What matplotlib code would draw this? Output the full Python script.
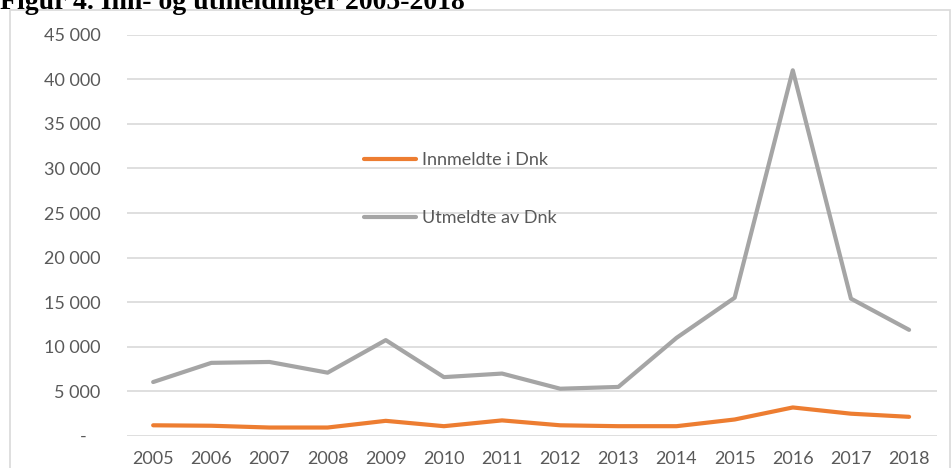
import matplotlib
matplotlib.use('Agg')
import matplotlib.pyplot as plt
from matplotlib.patches import Rectangle

# ── Data ───────────────────────────────────────────────────────────────
years = ["2005", "2006", "2007", "2008", "2009", "2010", "2011",
         "2012", "2013", "2014", "2015", "2016", "2017", "2018"]
innmeldte = [1200, 1150, 950, 950, 1700, 1100, 1750,
             1200, 1100, 1100, 1850, 3200, 2500, 2150]
utmeldte = [6050, 8200, 8300, 7100, 10750, 6600, 7000,
            5300, 5500, 11000, 15500, 41000, 15400, 11900]
y_ticks = [0, 5000, 10000, 15000, 20000, 25000, 30000, 35000, 40000, 45000]
y_labels = ["-   ", "5 000", "10 000", "15 000", "20 000", "25 000",
            "30 000", "35 000", "40 000", "45 000"]

TXT = '#595959'
W, H = 952, 468

fig = plt.figure(figsize=(W / 100, H / 100), dpi=100)
plt.rcParams['font.family'] = ['Lato', 'DejaVu Sans']

# chart frame (bottom runs off the picture)
fig.patches.append(Rectangle((10 / W, -0.1), 940 / W, 1.1 - 10 / H,
                             transform=fig.transFigure, fill=False,
                             edgecolor='#D9D9D9', lw=1.2))

# title, cut at the top edge as in the source
fig.text(0.0, 1 - 9 / H, "Figur 4. Inn- og utmeldinger 2005-2018",
         family='Liberation Serif', fontweight='bold', fontsize=20,
         va='baseline', ha='left', color='black')

ax = fig.add_axes([127 / W, 32 / H, 810 / W, 401.4 / H])
x = list(range(len(years)))
ax.plot(x, innmeldte, color='#ED7D31', lw=3, solid_capstyle='round',
        label='Innmeldte i Dnk', zorder=3)
ax.plot(x, utmeldte, color='#A5A5A5', lw=3, solid_capstyle='round',
        label='Utmeldte av Dnk', zorder=3)

ax.set_xlim(-0.45, 13.48)
ax.set_ylim(0, 45000)
ax.set_xticks(x)
ax.set_xticklabels(years)
ax.set_yticks(y_ticks)
ax.set_yticklabels(y_labels)
ax.tick_params(length=0, colors=TXT, labelsize=13)
ax.tick_params(axis='x', pad=11)
ax.tick_params(axis='y', pad=19)
ax.grid(axis='y', color='#D9D9D9', lw=1.2)
ax.set_axisbelow(True)
for s in ax.spines.values():
    s.set_visible(False)

ax.legend(loc='upper left', bbox_to_anchor=((364 - 127) / 810, (436 - 152) / 401.4),
          frameon=False, fontsize=13, handlelength=2.9, handletextpad=0.3,
          labelspacing=2.35, labelcolor=TXT, borderaxespad=0, borderpad=0)

fig.savefig('out.png', dpi=100)
